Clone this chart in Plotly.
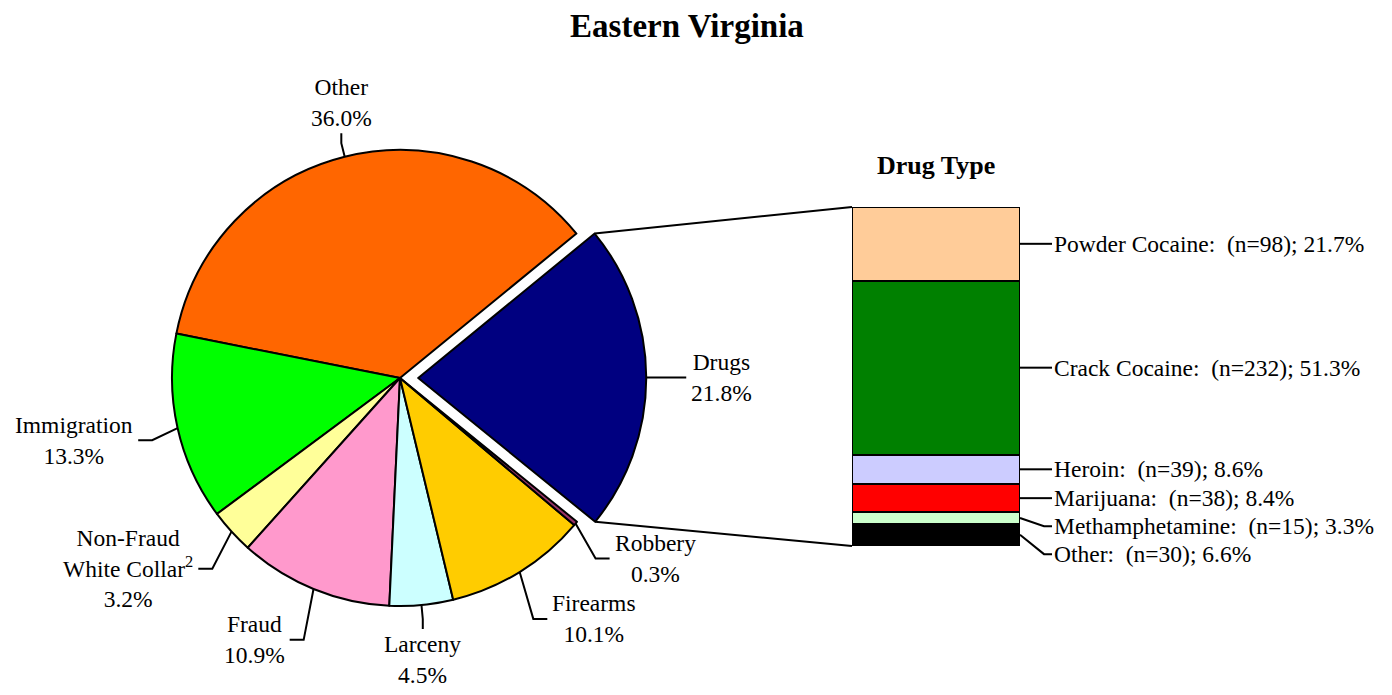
import math
import plotly.graph_objects as go

# page offset: the browser body has an 8px margin
OFF = 8
W, H = 1392 - OFF, 695 - OFF

# ---------------- data ----------------
pie_labels = ["Other", "Immigration", "Non-Fraud<br>White Collar<sup>2</sup>", "Fraud",
              "Larceny", "Firearms", "Robbery", "Drugs"]
pie_values = [36.0, 13.3, 3.2, 10.9, 4.5, 10.1, 0.3, 21.8]
pie_colors = ["#FF6600", "#00FF00", "#FFFF99", "#FF99CC", "#CCFFFF", "#FFCC00", "#993366", "#000080"]

drug_labels = ["Other", "Methamphetamine", "Marijuana", "Heroin", "Crack Cocaine", "Powder Cocaine"]
drug_n = [30, 15, 38, 39, 232, 98]
drug_pct = [6.6, 3.3, 8.4, 8.6, 51.3, 21.7]
drug_colors = ["#000000", "#CCFFCC", "#FF0000", "#CCCCFF", "#008000", "#FFCC99"]

# ---------------- layout geometry (window pixels) ----------------
FONT = "Liberation Serif, Times New Roman, serif"
FS = 23.5
cx, cy, R = 400.0, 378.0, 228.0
PULL = 0.08
START = 39.3          # math angle (deg) where the first slice starts (counterclockwise)
bar_x0, bar_x1, bar_top, bar_bot = 852.0, 1020.0, 207.0, 546.0
LX, LY = 26, 55       # leader elbow distances beyond the rim (side labels)
LV = 14               # leader elbow distance (top / bottom labels)
SEG = 14              # leader end segment length
SEGV = 10
GAP = 3


def px(x):
    return (x - OFF) / W


def py(y):
    return 1 - (y - OFF) / H


total = sum(pie_values)
# plotly (counterclockwise): first slice occupies [rotation, rotation + v0] measured clockwise from 12 o'clock
rotation = 90 - (START + 360 * pie_values[0] / total)

half = R * (1 + PULL)
fig = go.Figure()
fig.add_trace(go.Pie(
    values=pie_values, labels=pie_labels, sort=False, direction="counterclockwise",
    rotation=rotation, marker=dict(colors=pie_colors, line=dict(color="black", width=2)),
    pull=[PULL if l == "Drugs" else 0 for l in pie_labels], textinfo="none",
    hoverinfo="label+percent", showlegend=False,
    domain=dict(x=[px(cx - half), px(cx + half)], y=[py(cy + half), py(cy - half)]),
))

shapes = []
annotations = []
line_style = dict(color="black", width=2)


def path(points):
    return "M " + " L ".join(f"{px(x)} {py(y)}" for x, y in points)


cum = 0.0
for lab, v in zip(pie_labels, pie_values):
    a0 = START + 360 * cum / total
    a1 = START + 360 * (cum + v) / total
    cum += v
    mid = math.radians((a0 + a1) / 2)
    ox, oy = (cx, cy)
    if lab == "Drugs":
        ox += PULL * R * math.cos(mid)
        oy -= PULL * R * math.sin(mid)
    c, s = math.cos(mid), math.sin(mid)
    ex, ey = ox + R * c, oy - R * s
    txt = f"{lab}<br>{v:.1f}%"
    if abs(c) > 0.3:
        bx, by = ox + (R + LX) * c, oy - (R + LY) * s
        sg = 1 if c > 0 else -1
        tx = bx + sg * SEG
        shapes.append(dict(type="path", xref="paper", yref="paper", line=line_style,
                           path=path([(ex, ey), (bx, by), (tx, by)])))
        annotations.append(dict(x=px(tx + sg * GAP), y=py(by), xref="paper", yref="paper",
                                text=txt, showarrow=False, xanchor="left" if c > 0 else "right",
                                yanchor="middle", align="center"))
    else:
        bx, by = ox + (R + LV) * c, oy - (R + LV) * s
        sg = -1 if s > 0 else 1
        ty = by + sg * SEGV
        shapes.append(dict(type="path", xref="paper", yref="paper", line=line_style,
                           path=path([(ex, ey), (bx, by), (bx, ty)])))
        annotations.append(dict(x=px(bx), y=py(ty + sg * 1), xref="paper", yref="paper", text=txt,
                                showarrow=False, xanchor="center", borderpad=0,
                                yanchor="bottom" if s > 0 else "top", align="center"))
    if lab == "Drugs":
        # connector lines to the drug-type bar
        for ang, tyb in ((math.radians(a1), bar_top), (math.radians(a0), bar_bot)):
            sx, sy = ox + R * math.cos(ang), oy - R * math.sin(ang)
            shapes.append(dict(type="line", xref="paper", yref="paper", line=line_style,
                               x0=px(sx), y0=py(sy), x1=px(bar_x0), y1=py(tyb)))

# ---------------- stacked drug bar ----------------
dtotal = sum(drug_pct)
for lab, n, p, col in zip(drug_labels, drug_n, drug_pct, drug_colors):
    fig.add_trace(go.Bar(x=[0], y=[p], marker=dict(color=col, line=dict(color="black", width=2)),
                         width=1, xaxis="x", yaxis="y", showlegend=False,
                         hovertemplate=f"{lab}: (n={n}); {p}%<extra></extra>"))

# label positions: segment centers, spread to a minimum gap (top to bottom)
centers = []
acc = 0.0
for p in drug_pct:
    mid_v = acc + p / 2
    acc += p
    centers.append(bar_bot - (bar_bot - bar_top) * mid_v / dtotal)
order = list(range(len(drug_pct)))[::-1]   # top segment first
ys = {}
prev = None
for i in order:
    y = centers[i]
    if prev is not None and y < prev + 28:
        y = prev + 28
    ys[i] = y
    prev = y
for i, (lab, n, p) in enumerate(zip(drug_labels, drug_n, drug_pct)):
    ty = ys[i]
    shapes.append(dict(type="path", xref="paper", yref="paper", line=line_style,
                       path=path([(bar_x1, centers[i]), (bar_x1 + 24, ty), (bar_x1 + 32, ty)])))
    annotations.append(dict(x=px(bar_x1 + 32), y=py(ty), xref="paper", yref="paper",
                            text=f"{lab}:  (n={n}); {p}%", showarrow=False,
                            xanchor="left", yanchor="middle"))

annotations.append(dict(x=px((bar_x0 + bar_x1) / 2), y=py(165), xref="paper", yref="paper",
                        text="<b>Drug Type</b>", showarrow=False, xanchor="center", yanchor="middle",
                        font=dict(size=26)))

fig.update_layout(
    width=W, height=H, margin=dict(l=0, r=0, t=0, b=0),
    paper_bgcolor="white", plot_bgcolor="rgba(0,0,0,0)",
    font=dict(family=FONT, size=FS, color="black"),
    title=dict(text="<b>Eastern Virginia</b>", x=px(687), xanchor="center", y=py(25), yanchor="middle",
               font=dict(size=33)),
    xaxis=dict(domain=[px(bar_x0), px(bar_x1)], range=[-0.5, 0.5], visible=False, fixedrange=True),
    yaxis=dict(domain=[py(bar_bot), py(bar_top)], range=[0, dtotal], visible=False, fixedrange=True),
    barmode="stack", bargap=0,
    shapes=shapes, annotations=annotations,
)

fig.write_html("out.html")
